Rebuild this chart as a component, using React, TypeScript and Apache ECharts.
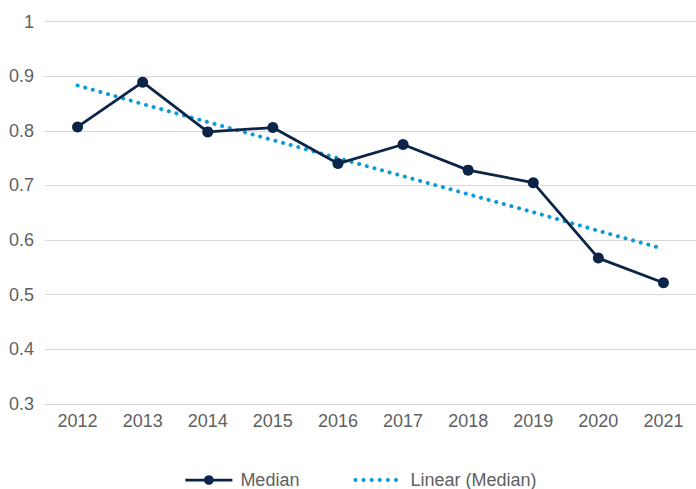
import React, { useEffect, useRef } from "react";
import * as echarts from "echarts";

const years = ["2012", "2013", "2014", "2015", "2016", "2017", "2018", "2019", "2020", "2021"];
const median = [0.807, 0.889, 0.798, 0.806, 0.74, 0.775, 0.728, 0.705, 0.567, 0.522];
const linearMedian = [0.883, 0.849, 0.816, 0.783, 0.75, 0.717, 0.684, 0.651, 0.617, 0.584];

const NAVY = "#0b2447";
const BLUE = "#0d9ad8";
const TEXT = "#5f5f5f";
const FONT = "'Liberation Sans', Arial, Helvetica, sans-serif";

export default function App() {
  const ref = useRef<HTMLDivElement>(null);
  useEffect(() => {
    if (!ref.current) return;
    const chart = echarts.init(ref.current, undefined, { renderer: "svg" });
    chart.setOption({
      animation: false,
      grid: { left: 45, right: -7, top: 21.5, bottom: 85, containLabel: false },
      xAxis: {
        type: "category",
        data: years,
        boundaryGap: true,
        axisLine: { show: false },
        axisTick: { show: false },
        axisLabel: { color: TEXT, fontSize: 18, fontFamily: FONT, margin: 8 },
      },
      yAxis: {
        type: "value",
        min: 0.3,
        max: 1,
        interval: 0.1,
        axisLine: { show: false },
        axisTick: { show: false },
        splitLine: { lineStyle: { color: "#d9d9d9", width: 1 } },
        axisLabel: {
          color: TEXT,
          fontSize: 18,
          fontFamily: FONT,
          margin: 11,
          formatter: (v: number) => String(Math.round(v * 10) / 10),
        },
      },
      legend: {
        left: 179,
        top: 466,
        itemWidth: 47,
        itemHeight: 12,
        itemGap: 54,
        textStyle: { color: TEXT, fontSize: 18, fontFamily: FONT, padding: [0, 0, 0, 3] },
        data: [
          { name: "Median", lineStyle: { width: 2.75 } },
          {
            name: "Linear (Median)",
            itemStyle: { opacity: 0 },
            lineStyle: { width: 4, type: [0.1, 8], cap: "round" },
          },
        ],
      },
      series: [
        {
          name: "Linear (Median)",
          type: "line",
          data: linearMedian,
          symbol: "none",
          lineStyle: { color: BLUE, width: 4, type: [0.1, 7.8], cap: "round" },
          itemStyle: { color: BLUE },
          z: 1,
        },
        {
          name: "Median",
          type: "line",
          data: median,
          symbol: "circle",
          symbolSize: 11,
          lineStyle: { color: NAVY, width: 2.75 },
          itemStyle: { color: NAVY },
          z: 2,
        },
      ],
    });
    return () => chart.dispose();
  }, []);
  return <div ref={ref} style={{ width: 696, height: 489, position: "absolute", left: 0, top: 0 }} />;
}
